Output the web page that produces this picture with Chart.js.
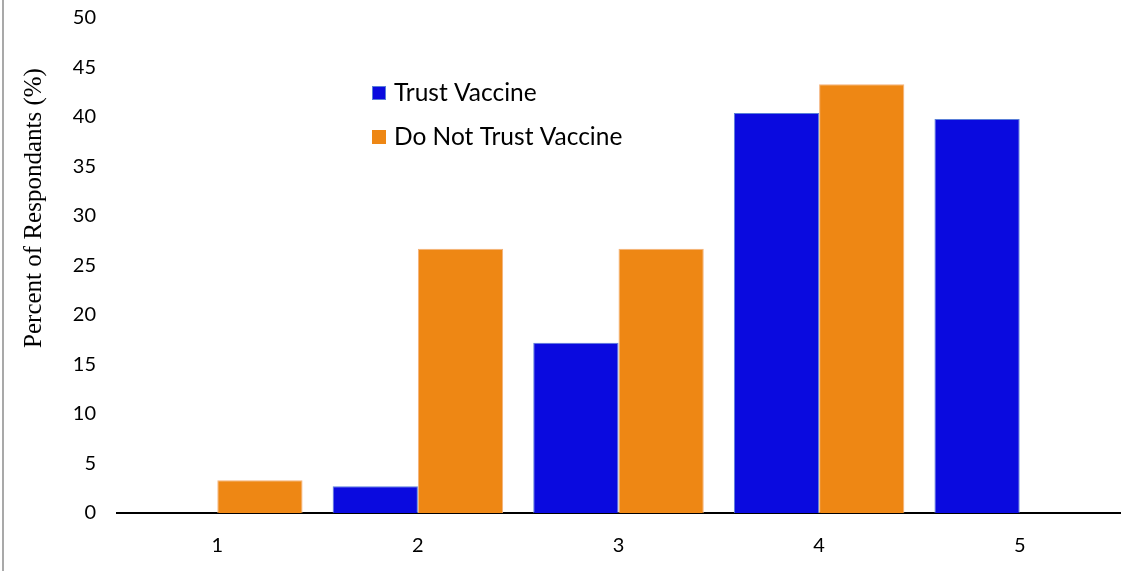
<!DOCTYPE html>
<html>
<head>
<meta charset="utf-8">
<script src="https://cdn.jsdelivr.net/npm/chart.js@4/dist/chart.umd.min.js"></script>
<style>
  html, body { margin: 0; padding: 0; background: #fff; }
  #wrap { width: 1126px; height: 571px; position: relative; }
</style>
</head>
<body>
<div id="wrap"><canvas id="c"></canvas></div>
<script>
// Survey response categories and the share of respondents in each
const categories = ['1', '2', '3', '4', '5'];
const trustVaccine = [0, 2.7, 17.2, 40.4, 39.8];
const doNotTrustVaccine = [3.3, 26.7, 26.7, 43.3, 0];
const yTicks = [0, 5, 10, 15, 20, 25, 30, 35, 40, 45, 50];
const seriesNames = ['Trust Vaccine', 'Do Not Trust Vaccine'];
const yTitle = 'Percent of Respondants (%)';

const tickFont = { family: 'Lato, "Open Sans", sans-serif', size: 20 };

// Frame line on the left edge, rotated axis title and the in-plot legend
const decorations = {
  id: 'decorations',
  beforeDraw(chart) {
    const ctx = chart.ctx;
    ctx.save();
    ctx.fillStyle = '#a9a9a9';
    ctx.fillRect(2, 0, 2, chart.height);
    ctx.restore();
  },
  afterDraw(chart) {
    const ctx = chart.ctx;
    ctx.save();
    ctx.fillStyle = '#000';
    ctx.font = '25px "Liberation Serif", "Times New Roman", serif';
    ctx.textAlign = 'center';
    ctx.textBaseline = 'middle';
    ctx.translate(34, 208);
    ctx.rotate(-Math.PI / 2);
    ctx.fillText(yTitle, 0, 0);
    ctx.restore();

    ctx.save();
    ctx.font = '24.5px Lato, "Open Sans", sans-serif';
    ctx.textBaseline = 'middle';
    const rows = [93, 137];
    chart.data.datasets.forEach((ds, i) => {
      const y = rows[i];
      ctx.fillStyle = ds.backgroundColor;
      ctx.fillRect(372, y - 7, 14, 14);
      if (i === 0) {
        ctx.strokeStyle = ds.borderColor;
        ctx.lineWidth = 1;
        ctx.strokeRect(372.5, y - 6.5, 13, 13);
      }
      ctx.fillStyle = '#000';
      ctx.fillText(ds.label, 394, y);
    });
    ctx.restore();
  }
};

new Chart(document.getElementById('c'), {
  type: 'bar',
  data: {
    labels: categories,
    datasets: [
      {
        label: seriesNames[0],
        data: trustVaccine,
        backgroundColor: '#0A0ADF',
        borderColor: '#5A7FD8',
        borderWidth: 1
      },
      {
        label: seriesNames[1],
        data: doNotTrustVaccine,
        backgroundColor: '#EE8714',
        borderColor: '#F4B27A',
        borderWidth: 1
      }
    ]
  },
  options: {
    responsive: true,
    maintainAspectRatio: false,
    animation: false,
    devicePixelRatio: 1,
    layout: { padding: { left: 0, right: 6, top: 18, bottom: 0 } },
    datasets: { bar: { categoryPercentage: 0.85, barPercentage: 1.0 } },
    plugins: {
      legend: { display: false },
      tooltip: { enabled: false }
    },
    scales: {
      x: {
        grid: { display: false, drawTicks: false },
        border: { display: true, color: '#000', width: 2 },
        ticks: { color: '#000', font: tickFont, padding: 21 },
        afterFit(scale) {
          scale.height = 58;
          scale.paddingLeft = 0;
          scale.paddingRight = 0;
        }
      },
      y: {
        min: 0,
        max: 50,
        afterBuildTicks(scale) { scale.ticks = yTicks.map(v => ({ value: v })); },
        grid: { display: false, drawTicks: false },
        border: { display: false },
        ticks: { color: '#000', font: tickFont, padding: 21 },
        afterFit(scale) {
          scale.width = 117;
          scale.paddingTop = 0;
          scale.paddingBottom = 0;
        }
      }
    }
  },
  plugins: [decorations]
});
</script>
</body>
</html>
